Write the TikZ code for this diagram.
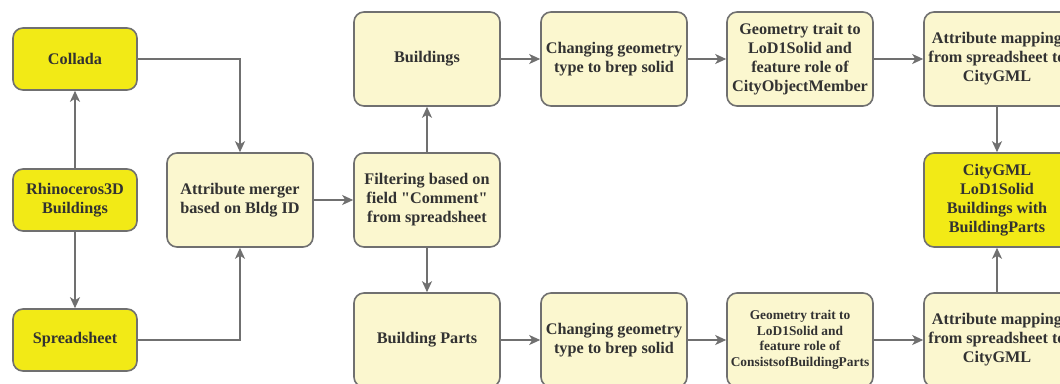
\documentclass[tikz,border=0pt]{standalone}
\usepackage{fontspec}
\setmainfont{Liberation Serif}
\usetikzlibrary{arrows.meta}
\definecolor{hiyellow}{RGB}{242,234,22}
\definecolor{paleyellow}{RGB}{251,247,207}
\definecolor{edgegray}{RGB}{112,112,112}
\definecolor{txtgray}{RGB}{50,50,50}
\begin{document}
\begin{tikzpicture}[x=1pt,y=-1pt,
  box/.style={draw=edgegray,line width=1.6pt,rounded corners=10pt,fill=paleyellow,minimum width=146pt,minimum height=94pt,align=center,text=txtgray,inner sep=2pt,font=\fontsize{16.2}{19}\selectfont\bfseries},
  hibox/.style={box,fill=hiyellow,minimum width=124pt,minimum height=62pt},
  arr/.style={draw=edgegray,line width=1.6pt,-{Stealth[length=11pt,width=10pt,inset=3pt]}}]
\clip (0,0) rectangle (1060,383);
\fill[white] (0,0) rectangle (1060,383);

\node[hibox] (collada) at (75,59) {Collada};
\node[hibox] (rhino) at (75,200) {Rhinoceros3D\\Buildings};
\node[hibox] (sheet) at (75,340) {Spreadsheet};
\node[box] (merger) at (240,200) {Attribute merger\\based on Bldg ID};
\node[box] (filter) at (427,200) {Filtering based on\\field \textquotedbl Comment\textquotedbl\\from spreadsheet};
\node[box] (bldg) at (427,59) {Buildings};
\node[box] (parts) at (427,340) {Building Parts};
\node[box] (chgA) at (614,59) {Changing geometry\\type to brep solid};
\node[box] (chgB) at (614,340) {Changing geometry\\type to brep solid};
\node[box] (geomA) at (800,59) {Geometry trait to\\LoD1Solid and\\feature role of\\CityObjectMember};
\node[box,font=\fontsize{13.4}{15.5}\selectfont\bfseries] (geomB) at (800,340) {Geometry trait to\\LoD1Solid and\\feature role of\\ConsistsofBuildingParts};
\node[box] (mapA) at (997,59) {Attribute mapping\\from spreadsheet to\\CityGML};
\node[box] (mapB) at (997,340) {Attribute mapping\\from spreadsheet to\\CityGML};
\node[box,fill=hiyellow] (citygml) at (997,200) {CityGML\\LoD1Solid\\Buildings with\\BuildingParts};

\draw[arr] (rhino) -- (collada);
\draw[arr] (rhino) -- (sheet);
\draw[arr] (collada.east) -| (merger.north);
\draw[arr] (sheet.east) -| (merger.south);
\draw[arr] (merger) -- (filter);
\draw[arr] (filter) -- (bldg);
\draw[arr] (filter) -- (parts);
\draw[arr] (bldg) -- (chgA);
\draw[arr] (chgA) -- (geomA);
\draw[arr] (geomA) -- (mapA);
\draw[arr] (mapA) -- (citygml);
\draw[arr] (parts) -- (chgB);
\draw[arr] (chgB) -- (geomB);
\draw[arr] (geomB) -- (mapB);
\draw[arr] (mapB) -- (citygml);
\end{tikzpicture}
\end{document}
